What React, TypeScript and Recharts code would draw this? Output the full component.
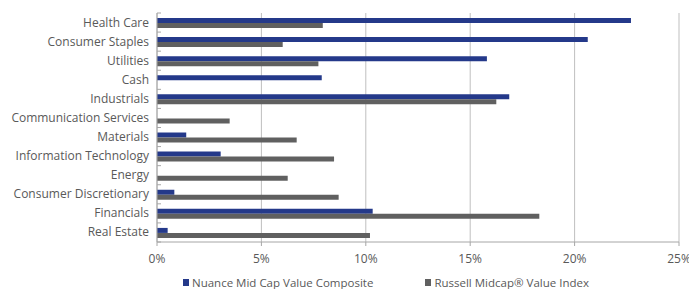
import { Bar, BarChart, CartesianGrid, Legend, XAxis, YAxis } from "recharts";

const categories = [
  "Health Care",
  "Consumer Staples",
  "Utilities",
  "Cash",
  "Industrials",
  "Communication Services",
  "Materials",
  "Information Technology",
  "Energy",
  "Consumer Discretionary",
  "Financials",
  "Real Estate",
];
const nuance = [22.7, 20.63, 15.8, 7.89, 16.87, 0, 1.4, 3.05, 0, 0.83, 10.33, 0.51];
const russell = [7.94, 6.02, 7.73, 0, 16.25, 3.48, 6.69, 8.48, 6.26, 8.7, 18.31, 10.2];
const xTicks = [0, 5, 10, 15, 20, 25];

const seriesNames = ["Nuance Mid Cap Value Composite", "Russell Midcap® Value Index"];
const BLUE = "#24398a";
const GRAY = "#606060";
const TEXT = "#595959";
const FONT = "'Open Sans', sans-serif";

const data = categories.map((name, i) => ({ name, nuance: nuance[i], russell: russell[i] }));

const TOP = 13;
const BOTTOM_AXIS = 242;
const band = (BOTTOM_AXIS - TOP) / categories.length;

function CategoryTick(props: any) {
  const { x, y, payload, index } = props;
  const axisX = x + 12;
  return (
    <g>
      <line x1={axisX - 4} x2={axisX} y1={y - band / 2} y2={y - band / 2} stroke="#a6a6a6" />
      {index === categories.length - 1 && (
        <line x1={axisX - 4} x2={axisX} y1={y + band / 2} y2={y + band / 2} stroke="#a6a6a6" />
      )}
      <text x={x} y={y} dy={4} textAnchor="end" fill={TEXT} fontSize={12} fontFamily={FONT}>
        {payload.value}
      </text>
    </g>
  );
}

function LegendContent() {
  const colors = [BLUE, GRAY];
  return (
    <div
      style={{
        display: "flex",
        paddingLeft: 183,
        paddingTop: 7,
        fontFamily: FONT,
        fontSize: 11.5,
        color: TEXT,
        whiteSpace: "nowrap",
      }}
    >
      {seriesNames.map((n, i) => (
        <div key={n} style={{ display: "flex", alignItems: "center", marginRight: i === 0 ? 52 : 0 }}>
          <span style={{ display: "inline-block", width: 6, height: 7, background: colors[i], marginRight: 3 }} />
          {n}
        </div>
      ))}
    </div>
  );
}

export default function App() {
  return (
    <div style={{ position: "absolute", left: 0, top: 0, background: "#fff" }}>
      <BarChart
        width={689}
        height={289}
        data={data}
        layout="vertical"
        margin={{ top: TOP, right: 10, bottom: 0, left: 0 }}
        barCategoryGap={4}
        barGap={0}
      >
        <CartesianGrid horizontal={false} stroke="#bfbfbf" />
        <XAxis
          type="number"
          domain={[0, 25]}
          ticks={xTicks}
          interval={0}
          tickFormatter={(v: number) => `${v}%`}
          tick={{ fill: TEXT, fontSize: 12, fontFamily: FONT }}
          axisLine={{ stroke: "#a6a6a6" }}
          tickLine={{ stroke: "#a6a6a6" }}
          tickSize={4}
          tickMargin={8}
          height={26}
        />
        <YAxis
          type="category"
          dataKey="name"
          width={157}
          interval={0}
          tick={<CategoryTick />}
          tickLine={false}
          axisLine={{ stroke: "#a6a6a6" }}
        />
        <Legend verticalAlign="bottom" height={21} content={<LegendContent />} />
        <Bar dataKey="nuance" name={seriesNames[0]} fill={BLUE} barSize={5} isAnimationActive={false} />
        <Bar dataKey="russell" name={seriesNames[1]} fill={GRAY} barSize={5} isAnimationActive={false} />
      </BarChart>
    </div>
  );
}
